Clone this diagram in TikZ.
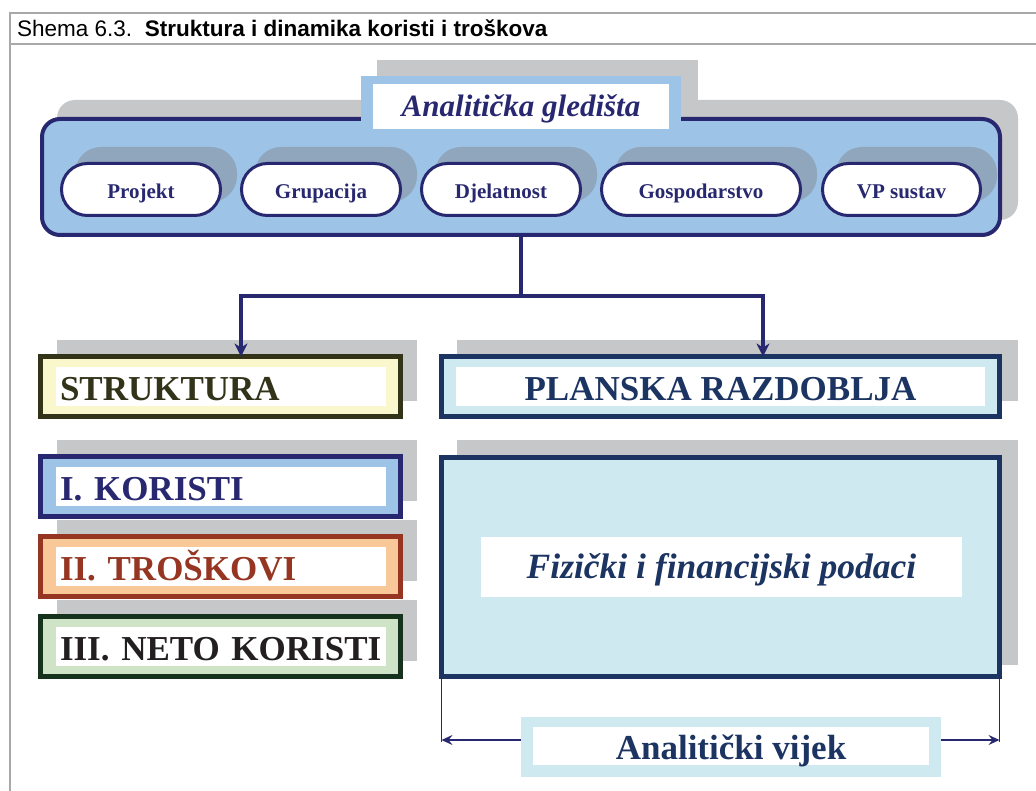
\documentclass[tikz,border=0pt]{standalone}
\usepackage{fontspec}
\setmainfont{Liberation Serif}
\newfontfamily\titlefont{Liberation Sans}
\usepackage{tikz}
\usetikzlibrary{arrows.meta,positioning}

\definecolor{navy}{RGB}{40,40,112}
\definecolor{skyfill}{RGB}{157,195,230}
\definecolor{shadowgray}{RGB}{198,199,201}
\definecolor{pillgray}{RGB}{143,166,188}
\definecolor{olive}{RGB}{51,51,26}
\definecolor{cream}{RGB}{250,247,205}
\definecolor{rust}{RGB}{149,53,34}
\definecolor{peach}{RGB}{248,200,153}
\definecolor{forest}{RGB}{22,50,28}
\definecolor{mint}{RGB}{207,228,198}
\definecolor{inkblack}{RGB}{35,31,32}
\definecolor{deepblue}{RGB}{28,52,97}
\definecolor{paleblue}{RGB}{206,234,240}
\definecolor{framegray}{RGB}{168,168,168}

\tikzset{
	pill/.style={draw=navy, line width=3pt, fill=white, rounded corners=26pt,
		minimum height=52pt, inner sep=0pt, outer sep=0pt, text=navy,
		font=\bfseries\fontsize{21}{24}\selectfont, text height=18pt, text depth=0pt},
	bandbox/.style 2 args={draw=#1, fill=#2, line width=5pt, inner sep=0pt, outer sep=0pt},
	leftlabel/.style={fill=white, inner sep=0pt, inner xsep=4pt, text width=322pt,
		minimum height=39pt, align=left, font=\bfseries\fontsize{35}{40}\selectfont,
		text height=28pt, text depth=0pt},
	link/.style={draw=navy, line width=4pt},
	dimline/.style={draw=navy, line width=1.8pt},
}

\begin{document}
\begin{tikzpicture}[x=1pt, y=-1pt]
	\useasboundingbox (0,0) rectangle (1036,791);
	\draw[framegray, line width=2pt] (1036,13) -- (9.5,13) -- (9.5,791);
	\draw[framegray, line width=2pt] (9.5,44) -- (1036,44);
	\node[anchor=base west, inner sep=0pt, font=\titlefont\fontsize{22.5}{25}\selectfont] (caption) at (17,37)
		{Shema 6.3.\ \ \textbf{Struktura i dinamika koristi i troškova}};

	\fill[shadowgray] (377,60) rectangle (698,117);
	\fill[shadowgray, rounded corners=18pt] (57,100) rectangle (1018,220);
	\node[draw=navy, fill=skyfill, line width=4pt, rounded corners=18pt, minimum width=958pt,
		minimum height=116pt, outer sep=0pt] (views) at (521,177) {};
	\fill[skyfill] (361,76) rectangle (681,121);
	\node[fill=white, minimum width=296pt, minimum height=45pt, inner sep=0pt, text=navy,
		font=\bfseries\itshape\fontsize{31}{34}\selectfont, text height=20pt, text depth=0pt]
		(viewstitle) at (521,106.5) {Analitička gledišta};

	\foreach \cx/\pw/\lbl [count=\i] in {141/162/Projekt, 321/162/Grupacija, 501/162/Djelatnost,
			701/202/Gospodarstvo, 901.5/161/VP sustav} {
		\fill[pillgray, rounded corners=26pt] ({\cx-\pw/2+15},147) rectangle ({\cx+\pw/2+15},202);
		\node[pill, minimum width={(\pw-3)*1pt}] (view\i) at (\cx,189.5) {\lbl};
	}

	\fill[shadowgray] (57,340) rectangle (417,401);
	\fill[shadowgray] (57,440) rectangle (417,501);
	\fill[shadowgray] (57,520) rectangle (417,581);
	\fill[shadowgray] (57,600) rectangle (417,661);
	\fill[shadowgray] (457,340) rectangle (1018,401);
	\fill[shadowgray] (457,440) rectangle (1018,665);

	\node[bandbox={olive}{cream}, minimum width=360pt, minimum height=60pt] (struct) at (220.5,386.5) {};
	\node[leftlabel, text=olive] (structlbl) at (221,386.5) {STRUKTURA};
	\node[bandbox={navy}{skyfill}, minimum width=360pt, minimum height=60pt] (benefit) at (220.5,486.5) {};
	\node[leftlabel, text=navy] (benefitlbl) at (221,486.5) {I. KORISTI};
	\node[bandbox={rust}{peach}, minimum width=360pt, minimum height=60pt] (cost) at (220.5,566.5) {};
	\node[leftlabel, text=rust] (costlbl) at (221,566.5) {II. TROŠKOVI};
	\node[bandbox={forest}{mint}, minimum width=360pt, minimum height=60pt] (net) at (220.5,646.5) {};
	\node[leftlabel, text=inkblack] (netlbl) at (221,646.5) {III. NETO KORISTI};

	\node[bandbox={deepblue}{paleblue}, minimum width=558pt, minimum height=60pt] (plan) at (720.5,386.5) {};
	\node[fill=white, inner sep=0pt, minimum width=529pt, minimum height=39pt, text=deepblue,
		font=\bfseries\fontsize{35}{40}\selectfont, text height=28pt, text depth=0pt]
		(planlbl) at (720.5,386.5) {PLANSKA RAZDOBLJA};
	\node[bandbox={deepblue}{paleblue}, minimum width=558pt, minimum height=219pt] (facts) at (720.5,567) {};
	\node[fill=white, inner sep=0pt, minimum width=481pt, minimum height=60pt, text=deepblue,
		font=\bfseries\itshape\fontsize{35.5}{40}\selectfont, text height=23pt, text depth=0pt]
		(factslbl) at (721.5,567) {Fizički i financijski podaci};

	\coordinate (fork) at (521,296);
	\draw[link] (views.south) -- (fork);
	\draw[link, -{Stealth[length=13pt, width=13pt, inset=4pt]}] (fork) -| ([xshift=20.5pt]struct.north);
	\draw[link, -{Stealth[length=13pt, width=13pt, inset=4pt]}] (fork) -| ([xshift=42.5pt]plan.north);

	\draw[dimline] (facts.south west) -- ++(0,65);
	\draw[dimline] (facts.south east) -- ++(0,65);
	\draw[dimline, {Stealth[length=11pt, width=10pt, inset=4pt]}-{Stealth[length=11pt, width=10pt, inset=4pt]}]
		([yshift=-63.5pt]facts.south west) -- ([yshift=-63.5pt]facts.south east);
	\fill[paleblue] (521,717) rectangle (941,777);
	\node[fill=white, inner sep=0pt, minimum width=396pt, minimum height=38pt, text=deepblue,
		font=\bfseries\fontsize{35}{40}\selectfont, text height=26pt, text depth=0pt]
		(lifespan) at (731,746) {Analitički vijek};
\end{tikzpicture}
\end{document}
